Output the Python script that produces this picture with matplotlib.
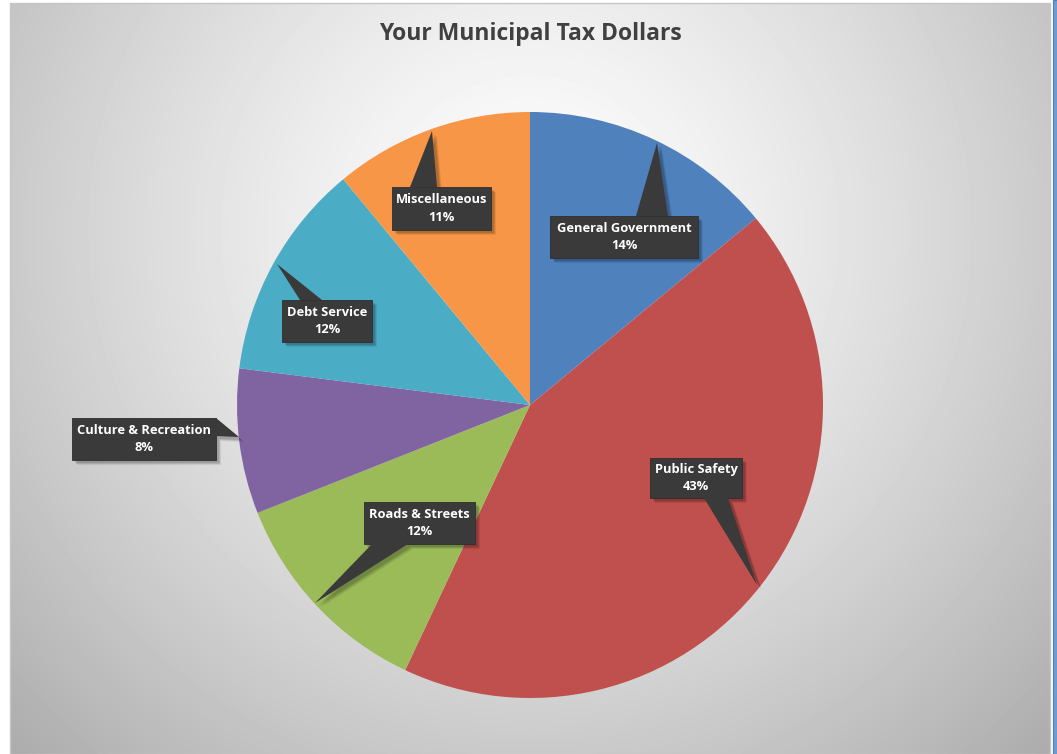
import numpy as np
import matplotlib.pyplot as plt
from matplotlib.patches import Polygon, Rectangle

# data
categories = ['General Government', 'Public Safety', 'Roads & Streets',
              'Culture & Recreation', 'Debt Service', 'Miscellaneous']
shares = [14, 43, 12, 8, 12, 11]
colors = ['#4F81BD', '#C0504D', '#9BBB59', '#8064A2', '#4BACC6', '#F79646']

W, H = 1057, 754
fig = plt.figure(figsize=(W / 100, H / 100), dpi=100)
ax = fig.add_axes([0, 0, 1, 1])
ax.set_xlim(0, W)
ax.set_ylim(0, H)
ax.axis('off')

def py(y):  # pixel row -> data y
    return H - y

# background: radial gradient in the chart area
x0, x1, y0, y1 = 10, 1050, 3, 754
gx, gy = np.meshgrid(np.linspace(x0, x1, 300), np.linspace(y0, y1, 220))
d = np.hypot((gx - 530) / 620, (gy - 230) / 620)
g = np.clip(1.0 - 0.26 * d ** 1.3, 0, 1)
ax.imshow(g, cmap='gray', vmin=0, vmax=1, extent=[x0, x1, py(y1), py(y0)],
          origin='upper', aspect='auto', zorder=0, interpolation='bilinear')
ax.add_patch(Rectangle((x0, py(y1)), x1 - x0, y1 - y0, fill=False,
                       ec='#c6c6c6', lw=1, zorder=1))
ax.add_patch(Rectangle((1053, 0), 4, H, fc='#6F9DD3', ec='#4F7FB8', lw=0.8, zorder=1))

ax.text(530, py(34), 'Your Municipal Tax Dollars', ha='center', va='center',
        fontsize=16.5, fontweight='bold', color='#404040', family='Open Sans')

# pie
ax.pie(shares, colors=colors, startangle=90, counterclock=False,
       center=(530, py(405)), radius=293, frame=True,
       wedgeprops=dict(linewidth=0))
ax.set_xlim(0, W)
ax.set_ylim(0, H)
ax.set_aspect('equal')
ax.axis('off')

# callouts: box (left, top, right, bottom), tail base points, tip
callouts = [
    ((550, 216, 698, 258), [(636, 216), (668, 216)], (657, 143)),
    ((650, 458, 742, 498), [(704, 498), (728, 498)], (757, 585)),
    ((364, 502, 475, 544), [(372, 544), (408, 544)], (315, 603)),
    ((72, 418, 216, 460), [(216, 418), (216, 436)], (239, 437)),
    ((282, 300, 372, 342), [(300, 300), (322, 300)], (277, 264)),
    ((392, 187, 491, 230), [(410, 187), (437, 187)], (432, 131)),
]

for (lab, pct), (box, base, tip) in zip(zip(categories, shares), callouts):
    l, t, r, b = box
    pts = [(base[0][0], py(base[0][1])), (tip[0], py(tip[1])), (base[1][0], py(base[1][1]))]
    # soft shadow
    for k, a in [(5, 0.08), (4, 0.10), (3, 0.12)]:
        ax.add_patch(Rectangle((l + k, py(b) - k), r - l, b - t, fc='black',
                               ec='none', alpha=a, zorder=3))
        ax.add_patch(Polygon([(p[0] + k, p[1] - k) for p in pts], closed=True,
                             fc='black', ec='none', alpha=a, zorder=3))
    ax.add_patch(Rectangle((l, py(b)), r - l, b - t, fc='#3a3a3a', ec='#2e2e2e',
                           lw=0.6, zorder=4))
    ax.add_patch(Polygon(pts, closed=True, fc='#3a3a3a', ec='none', zorder=4))
    ax.text((l + r) / 2, py((t + b) / 2), '%s\n%d%%' % (lab, pct), ha='center',
            va='center', color='white', fontsize=9.3, fontweight='bold',
            family='Open Sans', linespacing=1.45, zorder=5)

fig.savefig('out.png', dpi=100)
